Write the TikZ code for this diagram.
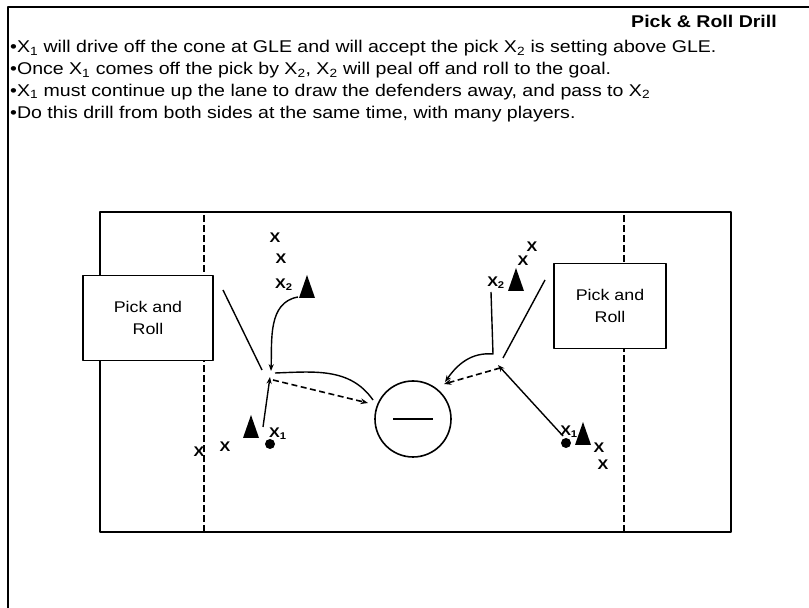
\documentclass[tikz,border=0pt]{standalone}
\usepackage{fontspec}
\setmainfont{Liberation Sans}[FakeStretch=1.15]
\usetikzlibrary{arrows.meta}

\tikzset{
  run/.style={line width=1.4pt,-{Stealth[length=2.4mm,width=1.8mm]}},
  pass/.style={line width=1.6pt,dash pattern=on 6pt off 3.5pt,-{Stealth[length=2.6mm,width=2mm]}},
  screen/.style={line width=1.4pt},
  note/.style={anchor=base west,inner sep=0pt,font=\fontsize{17}{17}\selectfont},
  drillbox/.style={draw,line width=1.5pt,fill=white,minimum height=85pt,align=center,
    font=\fontsize{15.5}{22}\selectfont},
  player/.style={inner sep=0pt,font=\fontsize{14}{14}\selectfont\bfseries},
  ball/.style={circle,fill=black,inner sep=0pt,minimum size=10pt},
  cone/.pic={\fill (0,12) -- (-8,-11) -- (8,-11) -- cycle;}
}

\begin{document}
\begin{tikzpicture}[x=1pt,y=1pt,line cap=butt,line join=round]
  \useasboundingbox (0,0) rectangle (809,608);
  % page frame
  \draw[line width=2pt] (8,0) -- (8,601) -- (809,601);
  \node[anchor=base east,inner sep=0pt,font=\fontsize{17}{17}\selectfont\bfseries] (title) at (777,580) {Pick \& Roll Drill};
  \node[note] (note1) at (10,555) {•X\textsubscript{1} will drive off the cone at GLE and will accept the pick X\textsubscript{2} is setting above GLE.};
  \node[note] (note2) at (10,533.3) {•Once X\textsubscript{1} comes off the pick by X\textsubscript{2}, X\textsubscript{2} will peal off and roll to the goal.};
  \node[note] (note3) at (10,511.6) {•X\textsubscript{1} must continue up the lane to draw the defenders away, and pass to X\textsubscript{2}};
  \node[note] (note4) at (10,489.9) {•Do this drill from both sides at the same time, with many players.};

  % field
  \draw[line width=2.4pt] (100,76) rectangle (731,396);
  \draw[line width=2pt,dash pattern=on 7pt off 3pt] (204,76) -- (204,396);
  \draw[line width=2pt,dash pattern=on 7pt off 3pt] (624,76) -- (624,396);
  \node[drillbox,minimum width=130pt] (lbox) at (148,290) {Pick and\\Roll};
  \node[drillbox,minimum width=112pt] (rbox) at (610,302) {Pick and\\Roll};

  % goal
  \draw[line width=1.6pt] (413,189) circle (38);
  \draw[line width=2.2pt] (393,189) -- (433,189);

  % left side
  \node[player] (lxa) at (275,370) {X};
  \node[player] (lxb) at (281,349) {X};
  \node[player] (lx2) at (284,323) {X\textsubscript{2}};
  \pic at (307,321) {cone};
  \pic at (251,181) {cone};
  \node[ball] (lball) at (270,164) {};
  \node[player] (lx1) at (278,174) {X\textsubscript{1}};
  \node[player] (lxc) at (225,161) {X};
  \node[player] (lxd) at (199,156) {X};
  \coordinate (lpickA) at (223,318);
  \coordinate (lpickB) at (262,238);
  \coordinate (lrollA) at (298,311);
  \coordinate (lrollB) at (271,237);
  \coordinate (ldrive) at (263,181);
  \coordinate (lturn) at (270,231);
  \coordinate (lcut) at (275,235);
  \coordinate (lgoal) at (373,208);
  \coordinate (lfeed) at (273,228);
  \coordinate (lpass) at (368,205);
  \draw[screen] (lpickA) -- (lpickB);
  \draw[run] (lrollA) to[out=190,in=88] (lrollB);
  \draw[run] (ldrive) -- (lturn);
  \draw[screen] (lcut) to[out=2,in=125] (lgoal);
  \draw[pass] (lfeed) -- (lpass);

  % right side
  \node[player] (rxa) at (532,361) {X};
  \node[player] (rxb) at (523,347) {X};
  \node[player] (rx2) at (496,325) {X\textsubscript{2}};
  \pic at (516,328) {cone};
  \pic at (583,174) {cone};
  \node[ball] (rball) at (566,165) {};
  \node[player] (rx1) at (569,176) {X\textsubscript{1}};
  \node[player] (rxc) at (599,160) {X};
  \node[player] (rxd) at (603,143) {X};
  \coordinate (rpickA) at (545,328);
  \coordinate (rpickB) at (503,250);
  \coordinate (rrollA) at (491,316);
  \coordinate (rcorner) at (493,254);
  \coordinate (rgoal) at (445,226);
  \coordinate (rdrive) at (563,172);
  \coordinate (rturn) at (498,243);
  \coordinate (rfeed) at (500,240);
  \coordinate (rpass) at (444,224);
  \draw[screen] (rpickA) -- (rpickB);
  \draw[run] (rrollA) -- (rcorner) to[out=175,in=55] (rgoal);
  \draw[run] (rdrive) -- (rturn);
  \draw[pass] (rfeed) -- (rpass);
\end{tikzpicture}
\end{document}
